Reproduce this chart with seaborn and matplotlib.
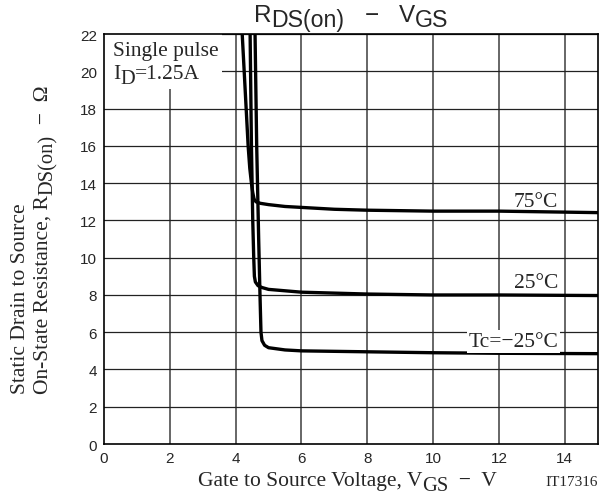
import matplotlib
matplotlib.use("Agg")
import matplotlib.pyplot as plt
from matplotlib.patches import Rectangle
import seaborn as sns
import pandas as pd

# ==========================================
# Data
# ==========================================

vgs_75 = [4.2, 4.26, 4.32, 4.38, 4.43, 4.48, 4.52, 4.56, 4.62, 4.75, 5.0, 5.5, 6, 7, 8, 10, 12, 15]
rds_75 = [22, 20, 18, 16, 14.8, 14.0, 13.5, 13.15, 13.0, 12.92, 12.85, 12.75, 12.7, 12.6, 12.55, 12.5, 12.5, 12.42]

vgs_25 = [4.44, 4.48, 4.52, 4.55, 4.57, 4.6, 4.68, 4.8, 5.0, 6, 8, 10, 12, 15]
rds_25 = [22, 16, 12, 10, 9.0, 8.7, 8.5, 8.4, 8.3, 8.15, 8.05, 8.0, 8.0, 7.97]

vgs_m25 = [4.59, 4.64, 4.7, 4.74, 4.77, 4.8, 4.88, 5.0, 5.5, 6, 8, 10, 12, 15]
rds_m25 = [22, 16, 11, 8, 6.0, 5.55, 5.3, 5.17, 5.05, 5.0, 4.95, 4.9, 4.87, 4.85]

temps = ["75°C", "25°C", "Tc=−25°C"]
label_y = [12.77, 8.42, 5.26]

x_ticks = [0, 2, 4, 6, 8, 10, 12, 14]
y_ticks = [0, 2, 4, 6, 8, 10, 12, 14, 16, 18, 20, 22]

df = pd.concat([
    pd.DataFrame({"vgs": vgs_75, "rds": rds_75, "temp": temps[0]}),
    pd.DataFrame({"vgs": vgs_25, "rds": rds_25, "temp": temps[1]}),
    pd.DataFrame({"vgs": vgs_m25, "rds": rds_m25, "temp": temps[2]}),
])

SANS = ["Liberation Sans", "DejaVu Sans"]
SERIF = ["Liberation Serif", "DejaVu Serif"]


def rich_text(fig, x, y, pieces, size, family, rotation=0, ha="left"):
    # pieces: (text, scale, baseline shift in em); x, y in pixels, baseline anchor
    r = fig.canvas.get_renderer()

    def width(s, fs):
        t = fig.text(0, 0, s, fontsize=fs, family=family)
        w = t.get_window_extent(r).width
        t.remove()
        return w

    widths = [width("|" + s + "|", size * sc) - width("||", size * sc) for s, sc, dy in pieces]
    total = sum(widths)
    pos = {"left": 0, "center": -total / 2, "right": -total}[ha]
    px = fig.dpi / 72
    for (s, sc, dy), w in zip(pieces, widths):
        perp = dy * size * px
        if rotation == 90:
            X, Y = x - perp, y + pos
        else:
            X, Y = x + pos, y + perp
        fig.text(X, Y, s, fontsize=size * sc, family=family, rotation=rotation,
                 rotation_mode="anchor", ha="left", va="baseline", transform=None)
        pos += w


# ==========================================
# Plot
# ==========================================

sns.set_style("white")
plt.rcParams["font.family"] = SANS

fig = plt.figure(figsize=(6.01, 5.02), dpi=100)
ax = fig.add_axes([0.173, 0.1135, 0.8215, 0.8165])

for x in x_ticks[1:]:
    ax.axvline(x, color="#666666", lw=1.4, zorder=1)
for y in y_ticks[1:]:
    ax.axhline(y, color="#222222", lw=0.9, zorder=1)

sns.lineplot(data=df, x="vgs", y="rds", units="temp", estimator=None,
             sort=False, color="black", lw=2.4, ax=ax, zorder=3)

ax.set_xlim(0, 15)
ax.set_ylim(0, 22)
ax.set_xticks(x_ticks)
ax.set_yticks(y_ticks)
ax.tick_params(length=0, labelsize=11, pad=5)
for s in ax.spines.values():
    s.set_color("black")
    s.set_linewidth(1.2)
ax.set_xlabel("")
ax.set_ylabel("")

# white box behind the test conditions
ax.add_patch(Rectangle((0, 19.05), 3.59, 2.95, fc="white", ec="none", zorder=2))
ax.text(0.27, 20.9, "Single pulse", family=SERIF, fontsize=15.5,
        ha="left", va="baseline", zorder=4)
ax_px = ax.transData.transform((0.27, 19.65))
rich_text(fig, ax_px[0], ax_px[1],
          [("I", 1.0, 0), ("D", 0.95, -0.22), ("=1.25A", 1.0, 0)],
          15.5, SERIF)

for t, yy in zip(temps, label_y):
    box = None
    if t.startswith("Tc"):
        box = dict(boxstyle="square,pad=0.08", fc="white", ec="none")
    ax.text(13.8, yy, t, family=SERIF, fontsize=15.5, ha="right", va="baseline",
            zorder=4, bbox=box)

H = 502
rich_text(fig, 351, H - 22,
          [("R", 1.0, 0), ("DS(on)", 0.95, -0.2), ("   ", 1.0, 0),
           ("−", 1.0, 0), ("   ", 1.0, 0), ("V", 1.0, 0), ("GS", 0.95, -0.2)],
          17.5, SANS, ha="center")

rich_text(fig, 347.5, H - 486,
          [("Gate to Source Voltage, V", 1.0, 0), ("GS", 0.95, -0.22),
           ("  −  V", 1.0, 0)],
          15.5, SERIF, ha="center")
fig.text(598 / 601, (H - 486) / H, "IT17316", family=SERIF, fontsize=11,
         ha="right", va="baseline")

rich_text(fig, 25, H - 394, [("Static Drain to Source", 1.0, 0)],
          15.5, SERIF, rotation=90)
rich_text(fig, 48, H - 394,
          [("On-State Resistance, R", 1.0, 0), ("DS(on)", 0.95, -0.22),
           ("  −  Ω", 1.0, 0)],
          15.5, SERIF, rotation=90)

fig.savefig("out.png", dpi=100)
plt.close(fig)
